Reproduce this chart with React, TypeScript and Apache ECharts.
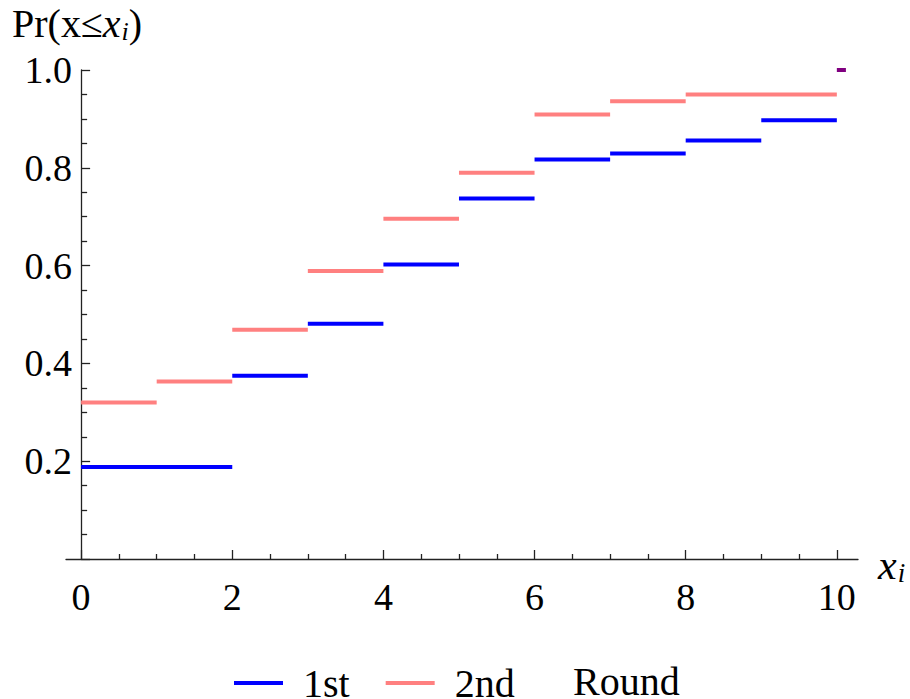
import React, { useEffect, useRef } from 'react';
import * as echarts from 'echarts';

// Step boundaries (x) and cumulative probabilities (y)
const firstBreaks = [0, 2, 3, 4, 5, 6, 7, 8, 9, 10];
const firstValues = [0.188, 0.375, 0.481, 0.602, 0.737, 0.817, 0.829, 0.856, 0.897];
const secondBreaks = [0, 1, 2, 3, 4, 5, 6, 7, 8, 10];
const secondValues = [0.32, 0.363, 0.469, 0.589, 0.696, 0.79, 0.909, 0.936, 0.95];
const overlapBreaks = [10, 10.12];
const overlapValues = [1.0];

const xTickLabels = [0, 2, 4, 6, 8, 10];
const xMinorTicks = [0.5, 1, 1.5, 2.5, 3, 3.5, 4.5, 5, 5.5, 6.5, 7, 7.5, 8.5, 9, 9.5];
const legendNames = ['1st', '2nd'];
const legendSuffix = 'Round';

const FONT = '"Liberation Serif", "DejaVu Serif", serif';

function steps(breaks: number[], values: number[]) {
  const out: any[] = [];
  values.forEach((v, i) => {
    if (i > 0) out.push([breaks[i], '-']);
    out.push([breaks[i], v]);
    out.push([breaks[i + 1], v]);
  });
  return out;
}

export default function App() {
  const ref = useRef<HTMLDivElement>(null);
  useEffect(() => {
    if (!ref.current) return;
    const chart = echarts.init(ref.current, undefined, { renderer: 'svg' });
    const axisColor = '#222';
    const option: any = {
      animation: false,
      backgroundColor: '#fff',
      grid: { left: 66, right: 52, top: 70, bottom: 140, containLabel: false, outerBoundsMode: 'none' },
      xAxis: [
        {
          type: 'value', min: -0.2, max: 10.28, position: 'bottom',
          axisLine: { show: true, onZero: true, lineStyle: { color: axisColor, width: 1.3 } },
          axisTick: { show: true, inside: true, length: 9, customValues: xTickLabels, lineStyle: { color: axisColor, width: 1.3 } },
          axisLabel: { show: true, customValues: xTickLabels, margin: 19, color: '#000', fontSize: 38, fontFamily: FONT, formatter: (v: number) => String(v) },
          splitLine: { show: false },
        },
        {
          type: 'value', min: -0.2, max: 10.28, position: 'bottom',
          axisLine: { show: false },
          axisTick: { show: true, inside: true, length: 5, customValues: xMinorTicks, lineStyle: { color: axisColor, width: 1.3 } },
          axisLabel: { show: false },
          splitLine: { show: false },
        },
      ],
      yAxis: {
        type: 'value', min: 0, max: 1, interval: 0.2,
        axisLine: { show: true, onZero: true, lineStyle: { color: axisColor, width: 1.3 } },
        axisTick: { show: true, inside: true, length: 9, lineStyle: { color: axisColor, width: 1.3 } },
        minorTick: { show: true, splitNumber: 4, length: 6, lineStyle: { color: axisColor, width: 1.3 } },
        axisLabel: { margin: -6, color: '#000', fontSize: 38, fontFamily: FONT, formatter: (v: number) => (v === 0 ? '' : v.toFixed(1)) },
        splitLine: { show: false },
        minorSplitLine: { show: false },
      },
      legend: {
        data: legendNames,
        left: 229, top: 658,
        icon: 'rect', itemWidth: 49, itemHeight: 4, itemGap: 36,
        textStyle: { fontSize: 40, fontFamily: FONT, color: '#000', padding: [0, 0, 18, 15] },
      },
      series: [
        {
          name: legendNames[0], type: 'line', data: steps(firstBreaks, firstValues), symbol: 'none',
          lineStyle: { color: '#0000ff', width: 4, cap: 'butt' }, itemStyle: { color: '#0000ff' }, clip: false, connectNulls: false,
        },
        {
          name: legendNames[1], type: 'line', data: steps(secondBreaks, secondValues), symbol: 'none',
          lineStyle: { color: '#ff8080', width: 4, cap: 'butt' }, itemStyle: { color: '#ff8080' }, clip: false, connectNulls: false,
        },
        {
          name: 'overlap', type: 'line', data: steps(overlapBreaks, overlapValues), symbol: 'none',
          lineStyle: { color: '#800080', width: 4, cap: 'butt' }, itemStyle: { color: '#800080' }, clip: false,
        },
      ],
      graphic: [
        {
          type: 'text', left: 12, top: 2,
          style: {
            text: '{a|Pr(x≤}{b|x}{c|i}{a|)}',
            rich: {
              a: { fontSize: 40, fontFamily: FONT, fill: '#000', lineHeight: 46 },
              b: { fontSize: 40, fontFamily: FONT, fontStyle: 'italic', fill: '#000', lineHeight: 46 },
              c: { fontSize: 26, fontFamily: FONT, fontStyle: 'italic', fill: '#000', lineHeight: 46, padding: [16, 0, 0, 1] },
            },
          },
        },
        {
          type: 'text', left: 878, top: 543,
          style: {
            text: '{b|x}{c|i}',
            rich: {
              b: { fontSize: 42, fontFamily: FONT, fontStyle: 'italic', fill: '#000', lineHeight: 46 },
              c: { fontSize: 27, fontFamily: FONT, fontStyle: 'italic', fill: '#000', lineHeight: 46, padding: [16, 0, 0, 1] },
            },
          },
        },
        {
          type: 'text', left: 573, top: 661,
          style: { text: legendSuffix, fontSize: 40, fontFamily: FONT, fill: '#000' },
        },
      ],
    };
    chart.setOption(option);
    return () => chart.dispose();
  }, []);
  return <div ref={ref} style={{ position: 'fixed', left: 0, top: 0, width: 910, height: 699 }} />;
}
